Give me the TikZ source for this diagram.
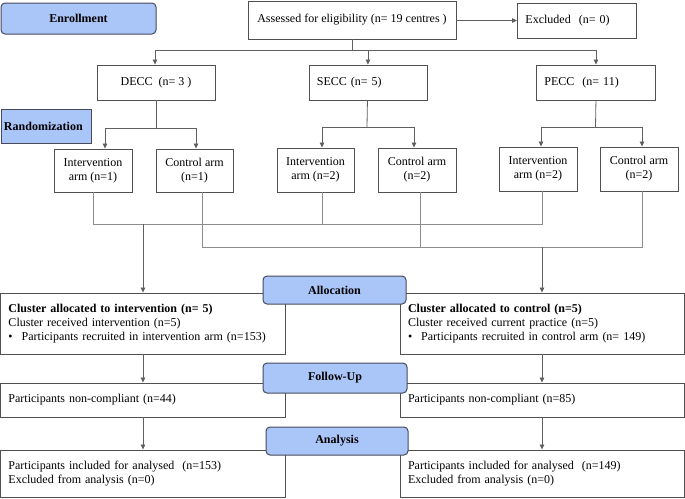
\documentclass[tikz,border=0pt]{standalone}
\usepackage{fontspec}
\setmainfont{Liberation Serif}
\usetikzlibrary{arrows.meta,calc}
\definecolor{phasefill}{RGB}{170,197,248}
\definecolor{phaseline}{RGB}{70,74,90}
\definecolor{boxline}{RGB}{80,80,80}
\definecolor{conn}{RGB}{95,95,95}
\definecolor{lightconn}{RGB}{140,140,140}
\tikzset{
  every node/.style={font=\fontsize{12}{14}\selectfont},
  wbox/.style={draw=boxline, line width=0.9pt, fill=white, inner sep=0pt, align=center},
  tbox/.style={draw=boxline, line width=0.9pt, fill=white, inner xsep=8pt, inner ysep=0pt, align=left},
  phase/.style={draw=phaseline, line width=1pt, fill=phasefill, rounded corners=4pt, inner sep=0pt, font=\fontsize{12}{14}\selectfont\bfseries},
  cn/.style={draw=conn, line width=0.8pt},
  lcn/.style={draw=lightconn, line width=0.8pt},
  arr/.style={draw=conn, line width=0.8pt, -{Triangle[length=5pt,width=4.5pt]}},
}
\begin{document}
\begin{tikzpicture}[x=1pt,y=-1pt]
\useasboundingbox (0,0) rectangle (685,498);
% top
\node[phase, minimum width=155pt, minimum height=31pt] (enroll) at (78.5,18.5) {Enrollment};
\node[wbox, minimum width=208pt, minimum height=38pt] (assess) at (352,20) {Assessed for eligibility (n= 19 centres )};
\node[wbox, minimum width=119pt, minimum height=35pt, align=left, anchor=west, inner xsep=8pt, text width=103pt] (excl) at (517,20.5) {Excluded\ \ (n= 0)};
\node[wbox, minimum width=118pt, minimum height=35pt] (decc) at (156,82.5) {DECC\ \ (n= 3 )};
\node[wbox, minimum width=118pt, minimum height=35pt, anchor=west, align=left, inner xsep=8pt, text width=102pt] (secc) at (308.5,82.5) {SECC (n= 5)};
\node[wbox, minimum width=119pt, minimum height=35pt, anchor=west, align=left, inner xsep=8pt, text width=103pt] (pecc) at (536,82.5) {PECC\ \ (n= 11)};
\node[phase, rounded corners=0pt, minimum width=90pt, minimum height=34pt, text width=84pt, align=left, inner xsep=3pt] (rand) at (46,126) {Randomization\\[6pt]};
% arms
\node[wbox, minimum width=78pt, minimum height=43pt] (int1) at (93,170.5) {Intervention\\arm (n=1)};
\node[wbox, minimum width=77pt, minimum height=43pt] (ctl1) at (194.5,170.5) {Control arm\\(n=1)};
\node[wbox, minimum width=77pt, minimum height=44pt] (int2) at (315.5,170) {Intervention\\arm (n=2)};
\node[wbox, minimum width=78pt, minimum height=44pt] (ctl2) at (417,170) {Control arm\\(n=2)};
\node[wbox, minimum width=78pt, minimum height=44pt] (int3) at (538,169) {Intervention\\arm (n=2)};
\node[wbox, minimum width=78pt, minimum height=44pt] (ctl3) at (639,169) {Control arm\\(n=2)};
% top connectors
\draw[arr] (assess.east |- excl.west) -- (excl.west);
\draw[cn] (assess.south) -- (352,50) coordinate (b0);
\draw[arr] (b0) -| ([xshift=-1pt]decc.north);
\draw[arr] (b0) -| (secc.north);
\draw[arr] (b0) -| (pecc.north);
\draw[cn] (decc.south) -- (156,128) coordinate (b1);
\draw[arr] (b1) -| ([xshift=12pt]int1.north);
\draw[arr] (b1) -| ([xshift=1.5pt]ctl1.north);
\draw[cn] ([xshift=-0.5pt]secc.north |- secc.south) -- (367,127) coordinate (b2);
\draw[arr] (b2) -| ([xshift=6.5pt]int2.north);
\draw[arr] (b2) -| ([xshift=-3pt]ctl2.north);
\draw[cn] (pecc.south) -- (595.5,127) coordinate (b3);
\draw[arr] (b3) -| ([xshift=3pt]int3.north);
\draw[arr] (b3) -| ([xshift=3pt]ctl3.north);
% merge lines
\draw[lcn] (int1.south) -- (93,224) -- (542,224) -- ([xshift=4pt]int3.south);
\draw[lcn] ([xshift=6.5pt]int2.south) -- (322,224);
\draw[lcn] ([xshift=7.5pt]ctl1.south) -- (202,247) -- (642,247) -- ([xshift=3pt]ctl3.south);
\draw[lcn] ([xshift=3pt]ctl2.south) -- (420,247);
% lower boxes
\node[tbox, minimum width=285pt, minimum height=61pt, text width=269pt] (allocL) at (143,323.5) {\textbf{Cluster allocated to intervention (n= 5)}\\Cluster received intervention (n=5)\\\textbullet\hspace{9pt}Participants recruited in intervention arm (n=153)};
\node[tbox, minimum width=284pt, minimum height=61pt, text width=268pt] (allocR) at (542,323.5) {\textbf{Cluster allocated to control (n=5)}\\Cluster received current practice (n=5)\\\textbullet\hspace{9pt}Participants recruited in control arm (n= 149)};
\node[tbox, minimum width=285pt, minimum height=34pt, text width=269pt] (ncL) at (143,400) {Participants non-compliant (n=44)};
\node[tbox, minimum width=284pt, minimum height=34pt, text width=268pt] (ncR) at (542,400) {Participants non-compliant (n=85)};
\node[tbox, minimum width=285pt, minimum height=47pt, text width=269pt] (finL) at (143,473.5) {Participants included for analysed\ \ (n=153)\\Excluded from analysis (n=0)};
\node[tbox, minimum width=284pt, minimum height=47pt, text width=268pt] (finR) at (542,473.5) {Participants included for analysed\ \ (n=149)\\Excluded from analysis (n=0)};
% down arrows
\draw[arr] (143,224) -- (allocL.north);
\draw[arr] (542,247) -- (allocR.north);
\draw[arr] (allocL.south) -- (ncL.north);
\draw[arr] (allocR.south) -- (ncR.north);
\draw[arr] (ncL.south) -- (finL.north);
\draw[arr] (ncR.south) -- (finR.north);
% phase labels
\node[phase, minimum width=143pt, minimum height=28pt] (alloc) at (334.5,290) {Allocation};
\node[phase, minimum width=144pt, minimum height=30pt] (follow) at (335,378) {Follow-Up};
\node[phase, minimum width=142pt, minimum height=28pt] (analysis) at (337,441) {Analysis};
\end{tikzpicture}
\end{document}
